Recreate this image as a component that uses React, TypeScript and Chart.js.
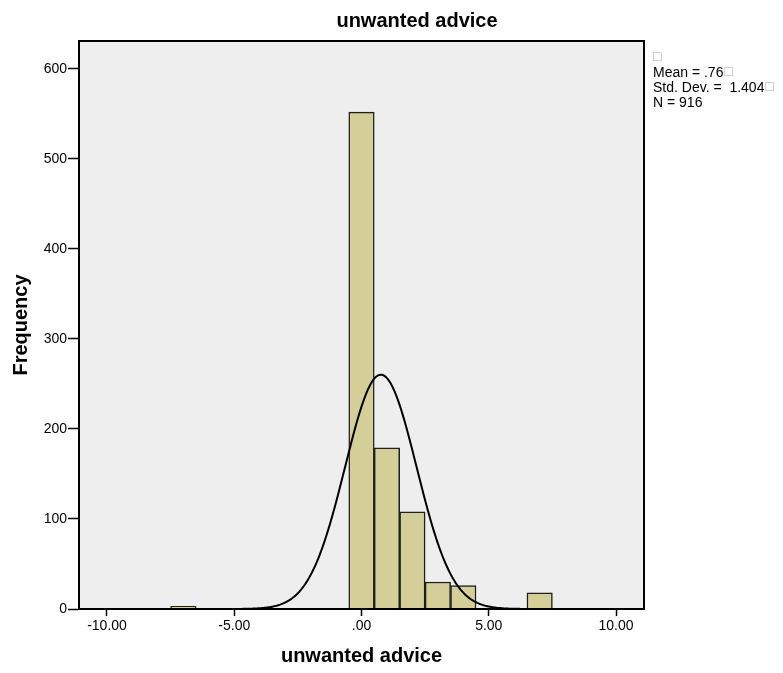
import React, { useEffect, useRef } from "react";
import { Chart, registerables } from "chart.js";

Chart.register(...registerables);

// ---- data ----
const CHART_TITLE = "unwanted advice";
const X_TITLE = "unwanted advice";
const Y_TITLE = "Frequency";

const BIN_CENTERS = [-7, 0, 1, 2, 3, 4, 7];
const FREQUENCIES = [3, 552, 179, 108, 30, 26, 18];

const MEAN = 0.76;
const STD_DEV = 1.404;
const N = 916;
const BIN_WIDTH = 1;

const X_MIN = -11.1;
const X_MAX = 11.1;
const Y_MIN = 0;
const Y_MAX = 631;
const X_TICKS = [-10, -5, 0, 5, 10];
const Y_TICKS = [0, 100, 200, 300, 400, 500, 600];

const STAT_LINES = ["", "Mean = .76", "Std. Dev. =  1.404", "N = 916"];
const STAT_BOX_AFTER = [true, true, true, false];

const FONT = '"Liberation Sans", Arial, Helvetica, sans-serif';

function formatX(v: number): string {
  if (v === 0) return ".00";
  return v.toFixed(2);
}

// normal curve defined by the stated mean / std. dev. / N
function normalCurve() {
  const pts: { x: number; y: number }[] = [];
  const k = (N * BIN_WIDTH) / (STD_DEV * Math.sqrt(2 * Math.PI));
  const steps = 444;
  for (let i = 0; i <= steps; i++) {
    const x = X_MIN + ((X_MAX - X_MIN) * i) / steps;
    const z = (x - MEAN) / STD_DEV;
    pts.push({ x, y: k * Math.exp(-0.5 * z * z) });
  }
  return pts;
}

const decorPlugin = {
  id: "decor",
  beforeDraw(chart: any) {
    const { ctx, chartArea } = chart;
    const { left, top, right, bottom } = chartArea;
    ctx.save();
    ctx.fillStyle = "#ffffff";
    ctx.fillRect(0, 0, chart.width, chart.height);
    ctx.fillStyle = "#EEEEEE";
    ctx.fillRect(left, top, right - left, bottom - top);
    ctx.restore();
  },
  afterDraw(chart: any) {
    const { ctx, chartArea } = chart;
    const { left, top, right, bottom } = chartArea;
    ctx.save();
    ctx.strokeStyle = "#000";
    ctx.lineWidth = 2;
    ctx.strokeRect(left, top, right - left, bottom - top);

    // title
    ctx.fillStyle = "#000";
    ctx.font = `bold 20px ${FONT}`;
    ctx.textAlign = "center";
    ctx.textBaseline = "alphabetic";
    ctx.fillText(CHART_TITLE, 417, 27);

    // statistics block
    const x0 = right + 9;
    STAT_LINES.forEach((line, i) => {
      const y = 62 + i * 15;
      ctx.font = `14px ${FONT}`;
      ctx.fillStyle = "#000";
      ctx.textAlign = "left";
      ctx.fillText(line, x0, y);
      const w = ctx.measureText(line).width;
      if (STAT_BOX_AFTER[i]) {
        ctx.font = `14px ${FONT}`;
        ctx.fillStyle = "#a8a8a8";
        ctx.fillText("\u25A1", x0 + w + (line ? 1 : 0), y - 1);
      }
    });
    ctx.restore();
  },
};

export default function App() {
  const canvasRef = useRef<HTMLCanvasElement | null>(null);

  useEffect(() => {
    document.body.style.margin = "0";
    const canvas = canvasRef.current;
    if (!canvas) return;

    Chart.defaults.font.family = FONT;

    const bars = BIN_CENTERS.map((x, i) => ({ x, y: FREQUENCIES[i] }));

    const chart = new Chart(canvas, {
      type: "bar",
      data: {
        datasets: [
          {
            type: "line",
            data: normalCurve(),
            borderColor: "#000000",
            borderWidth: 2,
            pointRadius: 0,
            fill: false,
            tension: 0,
            order: 0,
          } as any,
          {
            type: "bar",
            data: bars,
            backgroundColor: "#D4CF98",
            borderColor: "#1e1e1e",
            borderWidth: 1.5,
            barPercentage: 1,
            categoryPercentage: 1,
            order: 1,
          } as any,
        ],
      },
      options: {
        responsive: false,
        animation: false,
        events: [],
        layout: { padding: { left: 0, top: 41, right: 139, bottom: 0 } },
        plugins: {
          legend: { display: false },
          title: { display: false },
          tooltip: { enabled: false },
        },
        scales: {
          x: {
            type: "linear",
            min: X_MIN,
            max: X_MAX,
            offset: false,
            afterBuildTicks: (s: any) => {
              s.ticks = X_TICKS.map((v) => ({ value: v }));
            },
            afterFit: (s: any) => {
              s.height = 64;
            },
            grid: {
              display: true,
              drawOnChartArea: false,
              drawTicks: true,
              tickLength: 7,
              tickColor: "#000",
              tickWidth: 1.5,
              offset: false,
            },
            border: { display: true, color: "#000", width: 2 },
            ticks: {
              color: "#000",
              font: { size: 14 },
              padding: 2,
              maxRotation: 0,
              autoSkip: false,
              callback: (v: any) => formatX(Number(v)),
            },
            title: {
              display: true,
              text: X_TITLE,
              color: "#000",
              font: { size: 20, weight: "bold" },
              padding: { top: 0, bottom: 5 },
            },
          },
          y: {
            type: "linear",
            min: Y_MIN,
            max: Y_MAX,
            afterBuildTicks: (s: any) => {
              s.ticks = Y_TICKS.map((v) => ({ value: v }));
            },
            afterFit: (s: any) => {
              s.width = 79;
            },
            grid: {
              display: true,
              drawOnChartArea: false,
              drawTicks: true,
              tickLength: 11,
              tickColor: "#000",
              tickWidth: 1.5,
            },
            border: { display: true, color: "#000", width: 2 },
            ticks: {
              color: "#000",
              font: { size: 14 },
              padding: 1,
              autoSkip: false,
              callback: (v: any) => String(v),
            },
            title: {
              display: true,
              text: Y_TITLE,
              color: "#000",
              font: { size: 20, weight: "bold" },
              padding: { top: 9, bottom: 0 },
            },
          },
        },
      } as any,
      plugins: [decorPlugin],
    });

    return () => {
      chart.destroy();
    };
  }, []);

  return (
    <div style={{ width: 783, height: 673, background: "#fff" }}>
      <canvas ref={canvasRef} width={783} height={673} style={{ display: "block", width: 783, height: 673 }} />
    </div>
  );
}
